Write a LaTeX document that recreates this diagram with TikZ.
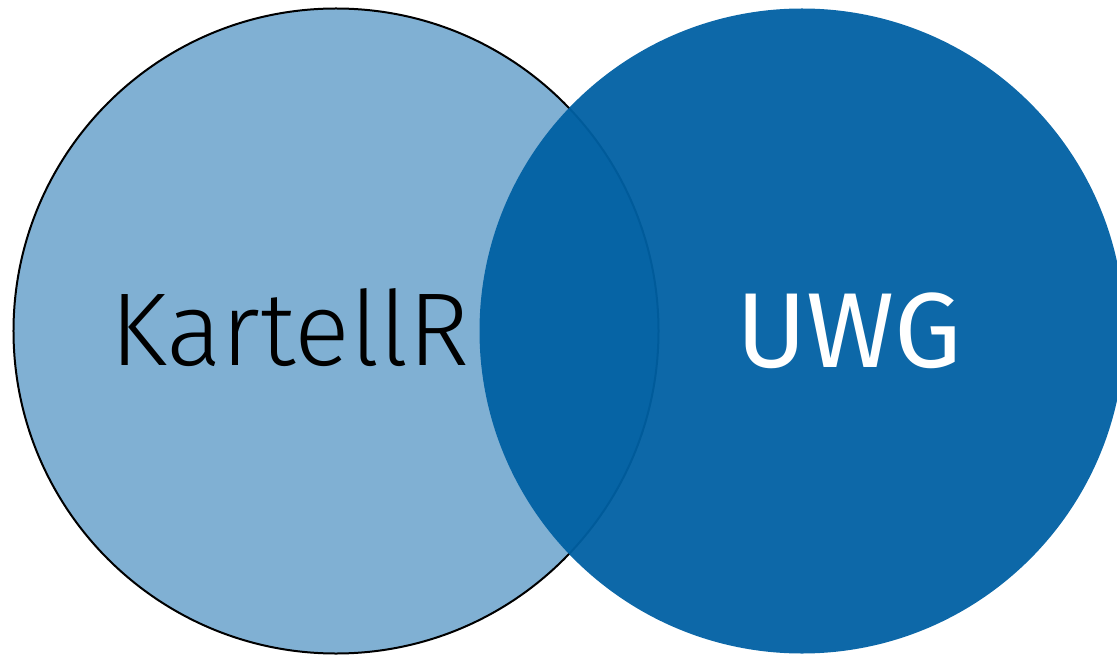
\documentclass[tikz,border=0pt]{standalone}
\usepackage{fontspec}
\setsansfont{Fira Sans}
\newfontfamily\lightsans{Fira Sans Light}
\definecolor{leftblue}{RGB}{128,176,211}
\definecolor{rightblue}{RGB}{0,96,163}
\tikzset{
  setleft/.style={draw=black, line width=2bp, fill=leftblue},
  setright/.style={fill=rightblue, fill opacity=0.95, draw=none},
  setlabel/.style={inner sep=0pt, anchor=base}
}
\begin{document}
\begin{tikzpicture}[x=1bp,y=-1bp]
\useasboundingbox (0,0) rectangle (1117,656);
\clip (0,0) rectangle (1117,656);
\node[setleft, circle, minimum size=645bp, inner sep=0pt] (kartell) at (336,331) {};
\node[setright, circle, minimum size=645bp, inner sep=0pt] (uwg) at (802,331) {};
\node[setlabel, text=black, font=\lightsans\fontsize{104}{104}\selectfont] (kl) at (290,365) {KartellR};
\node[setlabel, text=white, font=\sffamily\fontsize{107}{107}\selectfont] (ul) at (849,367) {UWG};
\end{tikzpicture}
\end{document}
